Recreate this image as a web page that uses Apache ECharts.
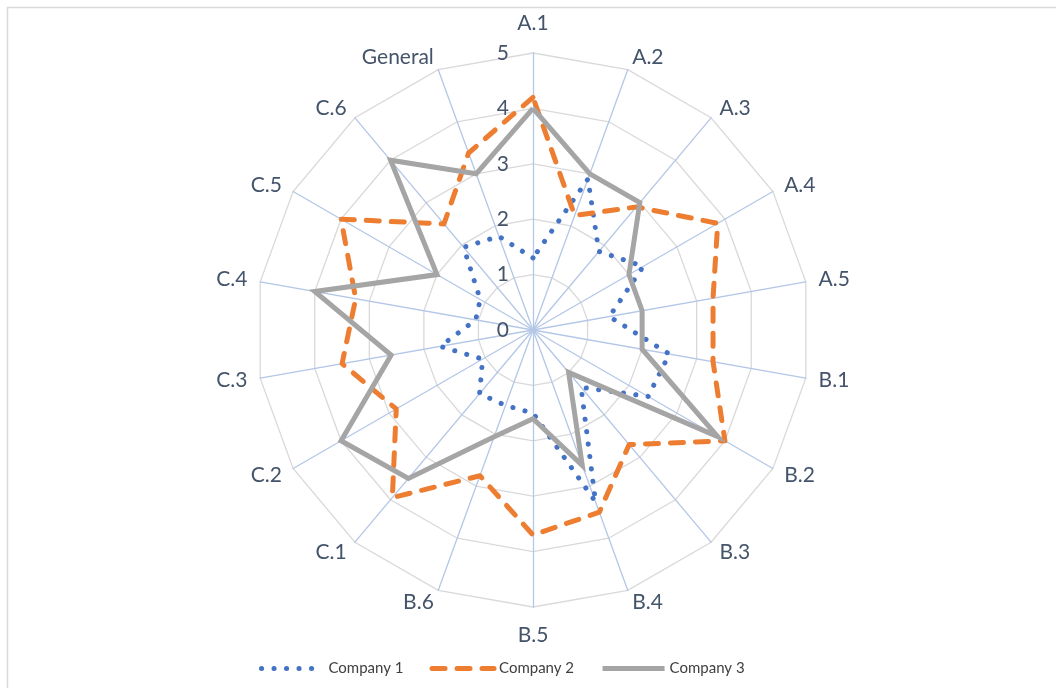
<!DOCTYPE html>
<html>
<head>
<meta charset="utf-8">
<script src="https://cdn.jsdelivr.net/npm/echarts@6/dist/echarts.min.js"></script>
<style>
  html, body { margin: 0; padding: 0; background: #ffffff; }
  #chart { width: 1056px; height: 688px; }
</style>
</head>
<body>
<div id="chart"></div>
<script>
// ---- data (clockwise from the top) ----
const indicators = ['A.1', 'A.2', 'A.3', 'A.4', 'A.5', 'B.1', 'B.2', 'B.3', 'B.4', 'B.5', 'B.6',
                    'C.1', 'C.2', 'C.3', 'C.4', 'C.5', 'C.6', 'General'];
const seriesNames = ['Company 1', 'Company 2', 'Company 3'];
const company1 = [1.3, 2.9, 1.85, 2.3, 1.4, 2.5, 2.4, 1.35, 3.3, 1.5, 1.45, 1.5, 1.05, 1.7, 1.05, 1.1, 1.95, 1.8];
const company2 = [4.2, 2.2, 2.9, 3.85, 3.3, 3.3, 4.0, 2.7, 3.5, 3.7, 2.8, 3.95, 2.85, 3.5, 3.25, 4.0, 2.5, 3.4];
const company3 = [4.0, 3.0, 3.0, 2.0, 2.0, 2.0, 3.85, 1.0, 2.6, 1.6, 2.05, 3.5, 4.0, 2.6, 4.0, 2.0, 4.0, 3.0];
const axisMin = 0;
const axisMax = 5;
const axisSplits = 5;

// ---- chart ----
const values = [company1, company2, company3];
// ECharts radar runs counter-clockwise; reorder so the chart reads clockwise from the top
function cw(arr) { return [arr[0]].concat(arr.slice(1).reverse()); }

const font = 'Lato, "Liberation Sans", sans-serif';
const textColor = '#44546A';
const lineStyles = [
  { color: '#4472C4', width: 5, type: [0.1, 12.4], cap: 'round', join: 'round' },
  { color: '#ED7D31', width: 5, type: [13, 12], cap: 'round', join: 'round' },
  { color: '#A5A5A5', width: 5, type: 'solid', cap: 'butt', join: 'miter' }
];

const chart = echarts.init(document.getElementById('chart'), null, { renderer: 'canvas' });

const orderedNames = cw(indicators);
const option = {
  backgroundColor: '#ffffff',
  animation: false,
  graphic: [{
    type: 'rect', silent: true, z: -10,
    shape: { x: 7.5, y: 7.5, width: 1200, height: 1200 },
    style: { fill: 'none', stroke: '#D9D9D9', lineWidth: 1.5 }
  }],
  legend: {
    data: seriesNames,
    left: 254, top: 656,
    itemWidth: 62, itemHeight: 14, itemGap: 26,
    textStyle: { fontFamily: font, fontSize: 15, color: '#404040' },
    lineStyle: { width: 5 },
    itemStyle: { color: 'rgba(0,0,0,0)', borderWidth: 0, opacity: 0 }
  },
  grid: { left: 0, top: 0, width: 1, height: 1, show: false },
  xAxis: { type: 'value', show: false },
  yAxis: { type: 'value', show: false },
  radar: {
    center: [533, 330],
    radius: 277,
    startAngle: 90,
    shape: 'polygon',
    splitNumber: axisSplits,
    nameGap: 13,
    axisName: { color: textColor, fontFamily: font, fontSize: 21 },
    indicator: orderedNames.map((n, i) => {
      const ind = { name: n, min: axisMin, max: axisMax, axisLabel: { show: i === 0 } };
      if (n === 'A.1') ind.nameGap = 19;
      if (n === 'B.5') ind.nameGap = 18;
      return ind;
    }),
    axisLine: { lineStyle: { color: '#B4C7E7', width: 1.3 } },
    splitLine: { lineStyle: { color: '#D9D9D9', width: 1.3 } },
    splitArea: { show: false },
    axisTick: { show: false },
    axisLabel: { show: false, color: textColor, fontFamily: font, fontSize: 21, margin: 24 }
  },
  series: [
    {
      type: 'radar',
      name: 'Scores',
      symbol: 'none',
      data: seriesNames.map((n, i) => ({
        name: n,
        value: cw(values[i]),
        lineStyle: lineStyles[i],
        itemStyle: { color: lineStyles[i].color }
      }))
    }
  ].concat(seriesNames.map((n, i) => ({
    type: 'line', name: n, data: [], symbol: 'none',
    itemStyle: { color: lineStyles[i].color },
    lineStyle: lineStyles[i]
  })))
};

chart.setOption(option);
</script>
</body>
</html>
